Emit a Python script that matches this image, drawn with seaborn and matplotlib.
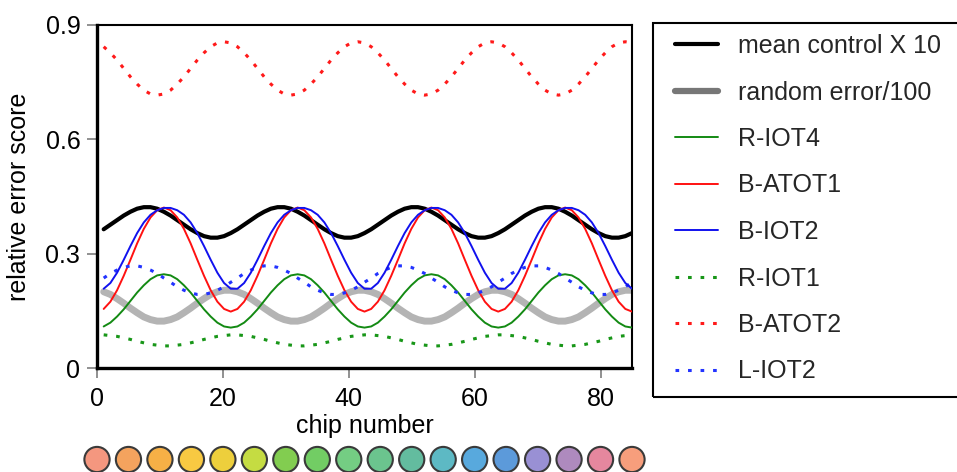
import matplotlib
matplotlib.use("Agg")
import matplotlib.pyplot as plt
from matplotlib.lines import Line2D
from matplotlib.patches import Rectangle
import seaborn as sns

# ---------------- data ----------------
chips = [1.0625, 2.125, 3.1875, 4.25, 5.3125, 6.375, 7.4375, 8.5, 9.5625, 10.625,
         11.6875, 12.75, 13.8125, 14.875, 15.9375, 17.0, 18.0625, 19.125, 20.1875, 21.25,
         22.3125, 23.375, 24.4375, 25.5, 26.5625, 27.625, 28.6875, 29.75, 30.8125, 31.875,
         32.9375, 34.0, 35.0625, 36.125, 37.1875, 38.25, 39.3125, 40.375, 41.4375, 42.5,
         43.5625, 44.625, 45.6875, 46.75, 47.8125, 48.875, 49.9375, 51.0, 52.0625, 53.125,
         54.1875, 55.25, 56.3125, 57.375, 58.4375, 59.5, 60.5625, 61.625, 62.6875, 63.75,
         64.8125, 65.875, 66.9375, 68.0, 69.0625, 70.125, 71.1875, 72.25, 73.3125, 74.375,
         75.4375, 76.5, 77.5625, 78.625, 79.6875, 80.75, 81.8125, 82.875, 83.9375, 85.0]

mean_control = [0.364, 0.376, 0.388, 0.400, 0.410, 0.418, 0.422, 0.422, 0.418, 0.410, 0.400, 0.388, 0.376, 0.364, 0.354, 0.346, 0.342, 0.342, 0.346, 0.354,
                0.364, 0.376, 0.388, 0.400, 0.410, 0.418, 0.422, 0.422, 0.418, 0.410, 0.400, 0.388, 0.376, 0.364, 0.354, 0.346, 0.342, 0.342, 0.346, 0.354,
                0.364, 0.376, 0.388, 0.400, 0.410, 0.418, 0.422, 0.422, 0.418, 0.410, 0.400, 0.388, 0.376, 0.364, 0.354, 0.346, 0.342, 0.342, 0.346, 0.354,
                0.364, 0.376, 0.388, 0.400, 0.410, 0.418, 0.422, 0.422, 0.418, 0.410, 0.400, 0.388, 0.376, 0.364, 0.354, 0.346, 0.342, 0.342, 0.346, 0.354]

random_error = [0.200, 0.193, 0.182, 0.170, 0.157, 0.145, 0.134, 0.127, 0.123, 0.123, 0.127, 0.134, 0.145, 0.157, 0.170, 0.182, 0.193, 0.200, 0.204, 0.204,
                0.200, 0.193, 0.182, 0.170, 0.157, 0.145, 0.134, 0.127, 0.123, 0.123, 0.127, 0.134, 0.145, 0.157, 0.170, 0.182, 0.193, 0.200, 0.204, 0.204,
                0.200, 0.193, 0.182, 0.170, 0.157, 0.145, 0.134, 0.127, 0.123, 0.123, 0.127, 0.134, 0.145, 0.157, 0.170, 0.182, 0.193, 0.200, 0.204, 0.204,
                0.200, 0.193, 0.182, 0.170, 0.157, 0.145, 0.134, 0.127, 0.123, 0.123, 0.127, 0.134, 0.145, 0.157, 0.170, 0.182, 0.193, 0.200, 0.204, 0.204]

r_iot4 = [0.109, 0.119, 0.135, 0.154, 0.176, 0.198, 0.217, 0.233, 0.243, 0.246, 0.243, 0.233, 0.217, 0.198, 0.176, 0.154, 0.135, 0.119, 0.109, 0.106,
          0.109, 0.119, 0.135, 0.154, 0.176, 0.198, 0.217, 0.233, 0.243, 0.246, 0.243, 0.233, 0.217, 0.198, 0.176, 0.154, 0.135, 0.119, 0.109, 0.106,
          0.109, 0.119, 0.135, 0.154, 0.176, 0.198, 0.217, 0.233, 0.243, 0.246, 0.243, 0.233, 0.217, 0.198, 0.176, 0.154, 0.135, 0.119, 0.109, 0.106,
          0.109, 0.119, 0.135, 0.154, 0.176, 0.198, 0.217, 0.233, 0.243, 0.246, 0.243, 0.233, 0.217, 0.198, 0.176, 0.154, 0.135, 0.119, 0.109, 0.106]

b_atot1 = [0.155, 0.174, 0.204, 0.242, 0.284, 0.327, 0.365, 0.395, 0.414, 0.421, 0.414, 0.395, 0.365, 0.327, 0.284, 0.242, 0.204, 0.174, 0.155, 0.148,
           0.155, 0.174, 0.204, 0.242, 0.284, 0.327, 0.365, 0.395, 0.414, 0.421, 0.414, 0.395, 0.365, 0.327, 0.284, 0.242, 0.204, 0.174, 0.155, 0.148,
           0.155, 0.174, 0.204, 0.242, 0.284, 0.327, 0.365, 0.395, 0.414, 0.421, 0.414, 0.395, 0.365, 0.327, 0.284, 0.242, 0.204, 0.174, 0.155, 0.148,
           0.155, 0.174, 0.204, 0.242, 0.284, 0.327, 0.365, 0.395, 0.414, 0.421, 0.414, 0.395, 0.365, 0.327, 0.284, 0.242, 0.204, 0.174, 0.155, 0.148]

b_iot2 = [0.208, 0.223, 0.250, 0.284, 0.320, 0.354, 0.382, 0.402, 0.414, 0.420, 0.420, 0.414, 0.402, 0.382, 0.354, 0.320, 0.284, 0.250, 0.223, 0.208,
          0.208, 0.223, 0.250, 0.284, 0.320, 0.354, 0.382, 0.402, 0.414, 0.420, 0.420, 0.414, 0.402, 0.382, 0.354, 0.320, 0.284, 0.250, 0.223, 0.208,
          0.208, 0.223, 0.250, 0.284, 0.320, 0.354, 0.382, 0.402, 0.414, 0.420, 0.420, 0.414, 0.402, 0.382, 0.354, 0.320, 0.284, 0.250, 0.223, 0.208,
          0.208, 0.223, 0.250, 0.284, 0.320, 0.354, 0.382, 0.402, 0.414, 0.420, 0.420, 0.414, 0.402, 0.382, 0.354, 0.320, 0.284, 0.250, 0.223, 0.208]

r_iot1 = [0.087, 0.085, 0.083, 0.079, 0.075, 0.070, 0.066, 0.062, 0.060, 0.058, 0.058, 0.060, 0.062, 0.066, 0.070, 0.075, 0.079, 0.083, 0.085, 0.087,
          0.087, 0.085, 0.083, 0.079, 0.075, 0.070, 0.066, 0.062, 0.060, 0.058, 0.058, 0.060, 0.062, 0.066, 0.070, 0.075, 0.079, 0.083, 0.085, 0.087,
          0.087, 0.085, 0.083, 0.079, 0.075, 0.070, 0.066, 0.062, 0.060, 0.058, 0.058, 0.060, 0.062, 0.066, 0.070, 0.075, 0.079, 0.083, 0.085, 0.087,
          0.087, 0.085, 0.083, 0.079, 0.075, 0.070, 0.066, 0.062, 0.060, 0.058, 0.058, 0.060, 0.062, 0.066, 0.070, 0.075, 0.079, 0.083, 0.085, 0.087]

b_atot2 = [0.843, 0.827, 0.808, 0.786, 0.764, 0.745, 0.729, 0.719, 0.716, 0.719, 0.729, 0.745, 0.764, 0.786, 0.808, 0.827, 0.843, 0.853, 0.856, 0.853,
           0.843, 0.827, 0.808, 0.786, 0.764, 0.745, 0.729, 0.719, 0.716, 0.719, 0.729, 0.745, 0.764, 0.786, 0.808, 0.827, 0.843, 0.853, 0.856, 0.853,
           0.843, 0.827, 0.808, 0.786, 0.764, 0.745, 0.729, 0.719, 0.716, 0.719, 0.729, 0.745, 0.764, 0.786, 0.808, 0.827, 0.843, 0.853, 0.856, 0.853,
           0.843, 0.827, 0.808, 0.786, 0.764, 0.745, 0.729, 0.719, 0.716, 0.719, 0.729, 0.745, 0.764, 0.786, 0.808, 0.827, 0.843, 0.853, 0.856, 0.853]

l_iot2 = [0.236, 0.248, 0.257, 0.264, 0.268, 0.268, 0.264, 0.257, 0.248, 0.236, 0.225, 0.213, 0.204, 0.197, 0.193, 0.193, 0.197, 0.204, 0.213, 0.225,
          0.236, 0.248, 0.257, 0.264, 0.268, 0.268, 0.264, 0.257, 0.248, 0.236, 0.225, 0.213, 0.204, 0.197, 0.193, 0.193, 0.197, 0.204, 0.213, 0.225,
          0.236, 0.248, 0.257, 0.264, 0.268, 0.268, 0.264, 0.257, 0.248, 0.236, 0.225, 0.213, 0.204, 0.197, 0.193, 0.193, 0.197, 0.204, 0.213, 0.225,
          0.236, 0.248, 0.257, 0.264, 0.268, 0.268, 0.264, 0.257, 0.248, 0.236, 0.225, 0.213, 0.204, 0.197, 0.193, 0.193, 0.197, 0.204, 0.213, 0.225]

series_labels = ["mean control X 10", "random error/100", "R-IOT4", "B-ATOT1",
                 "B-IOT2", "R-IOT1", "B-ATOT2", "L-IOT2"]

circle_chips = [0, 5, 10, 15, 20, 25, 30, 35, 40, 45, 50, 55, 60, 65, 70, 75, 80, 85]
circle_colors = ["#F4977F", "#F4A35E", "#F6B046", "#F8C942", "#EDCF3C", "#C5DC42",
                 "#82CD50", "#72CD64", "#74CD83", "#6BC48E", "#63BC9F", "#5DB9C4",
                 "#58A9DD", "#5C9ADA", "#9990D4", "#AE8ABE", "#E5879E", "#F79E7C"]

x_ticks = [0, 20, 40, 60, 80]
y_ticks = [0, 0.3, 0.6, 0.9]
y_tick_labels = ["0", "0.3", "0.6", "0.9"]

# ---------------- styling ----------------
sns.set_theme(style="ticks")
plt.rcParams["font.family"] = ["Liberation Sans", "DejaVu Sans"]

W, H = 957, 472
fig = plt.figure(figsize=(W / 100, H / 100), dpi=100)
ax = fig.add_axes([97 / W, 1 - 368 / H, 535 / W, 343 / H])

DOT = (0, (1.2, 2.9))
# (values, color, linewidth, linestyle, zorder, legend color, legend lw)
styles = [
    (mean_control, "#000000", 3.0, "-", 3, "#000000", 3.0),
    (random_error, "#b4b4b4", 5.0, "-", 2, "#777777", 4.5),
    (r_iot4, "#138a13", 1.4, "-", 4, "#138a13", 1.4),
    (b_atot1, "#ff1111", 1.4, "-", 4, "#ff1111", 1.4),
    (b_iot2, "#1111ee", 1.4, "-", 5, "#1111ee", 1.4),
    (r_iot1, "#189618", 2.2, DOT, 4, "#189618", 2.2),
    (b_atot2, "#ff1a1a", 2.2, DOT, 4, "#ff1a1a", 2.2),
    (l_iot2, "#2233ff", 2.2, DOT, 4, "#2233ff", 2.2),
]

handles = []
for (vals, col, lw, ls, z, lcol, llw) in styles:
    sns.lineplot(x=chips, y=vals, ax=ax, color=col, linewidth=lw,
                 linestyle=ls, zorder=z, legend=False)
    handles.append(Line2D([], [], color=lcol, linewidth=llw, linestyle=ls))

ax.set_xlim(0, 85)
ax.set_ylim(0, 0.9)
ax.set_xticks(x_ticks)
ax.set_yticks(y_ticks)
ax.set_yticklabels(y_tick_labels)
ax.tick_params(direction="out", length=7, width=1.3, color="#888888",
               labelsize=18, labelcolor="black")
ax.tick_params(axis="x", pad=7)
ax.tick_params(axis="y", pad=5)
for side in ["left", "bottom"]:
    ax.spines[side].set_linewidth(2.4)
    ax.spines[side].set_color("black")
for side in ["top", "right"]:
    ax.spines[side].set_linewidth(1.5)
    ax.spines[side].set_color("black")

ax.set_ylabel("relative error score", fontsize=18, color="black")
ax.yaxis.set_label_coords(-0.123, 0.5)
ax.set_xlabel("chip number", fontsize=18, color="black")
ax.xaxis.set_label_coords(0.5, -0.135)

# coloured chip circles strip under the x axis
ax_c = fig.add_axes([97 / W, 0, 535 / W, 25 / H], sharex=ax)
hue_labels = [str(c) for c in circle_chips]
sns.scatterplot(x=circle_chips, y=[0] * len(circle_chips), hue=hue_labels,
                palette=dict(zip(hue_labels, circle_colors)), ax=ax_c, s=330,
                edgecolor="#3a3a3a", linewidth=1.5, legend=False, clip_on=False)
ax_c.set_ylim(-1, 1)
ax_c.axis("off")

# legend (box runs off the right edge, as in the reference)
fig.add_artist(Rectangle((653 / W, 1 - 397 / H), 0.5, (397 - 23) / H,
                         transform=fig.transFigure, fill=False,
                         edgecolor="black", linewidth=1.5))
fig.legend(handles=handles, labels=series_labels, loc="upper left",
           bbox_to_anchor=(675 / W, 1 - 34 / H), frameon=False, borderpad=0,
           borderaxespad=0, handlelength=1.72, handletextpad=0.8,
           labelspacing=0.9, fontsize=18)

fig.savefig("out.png", dpi=100)
